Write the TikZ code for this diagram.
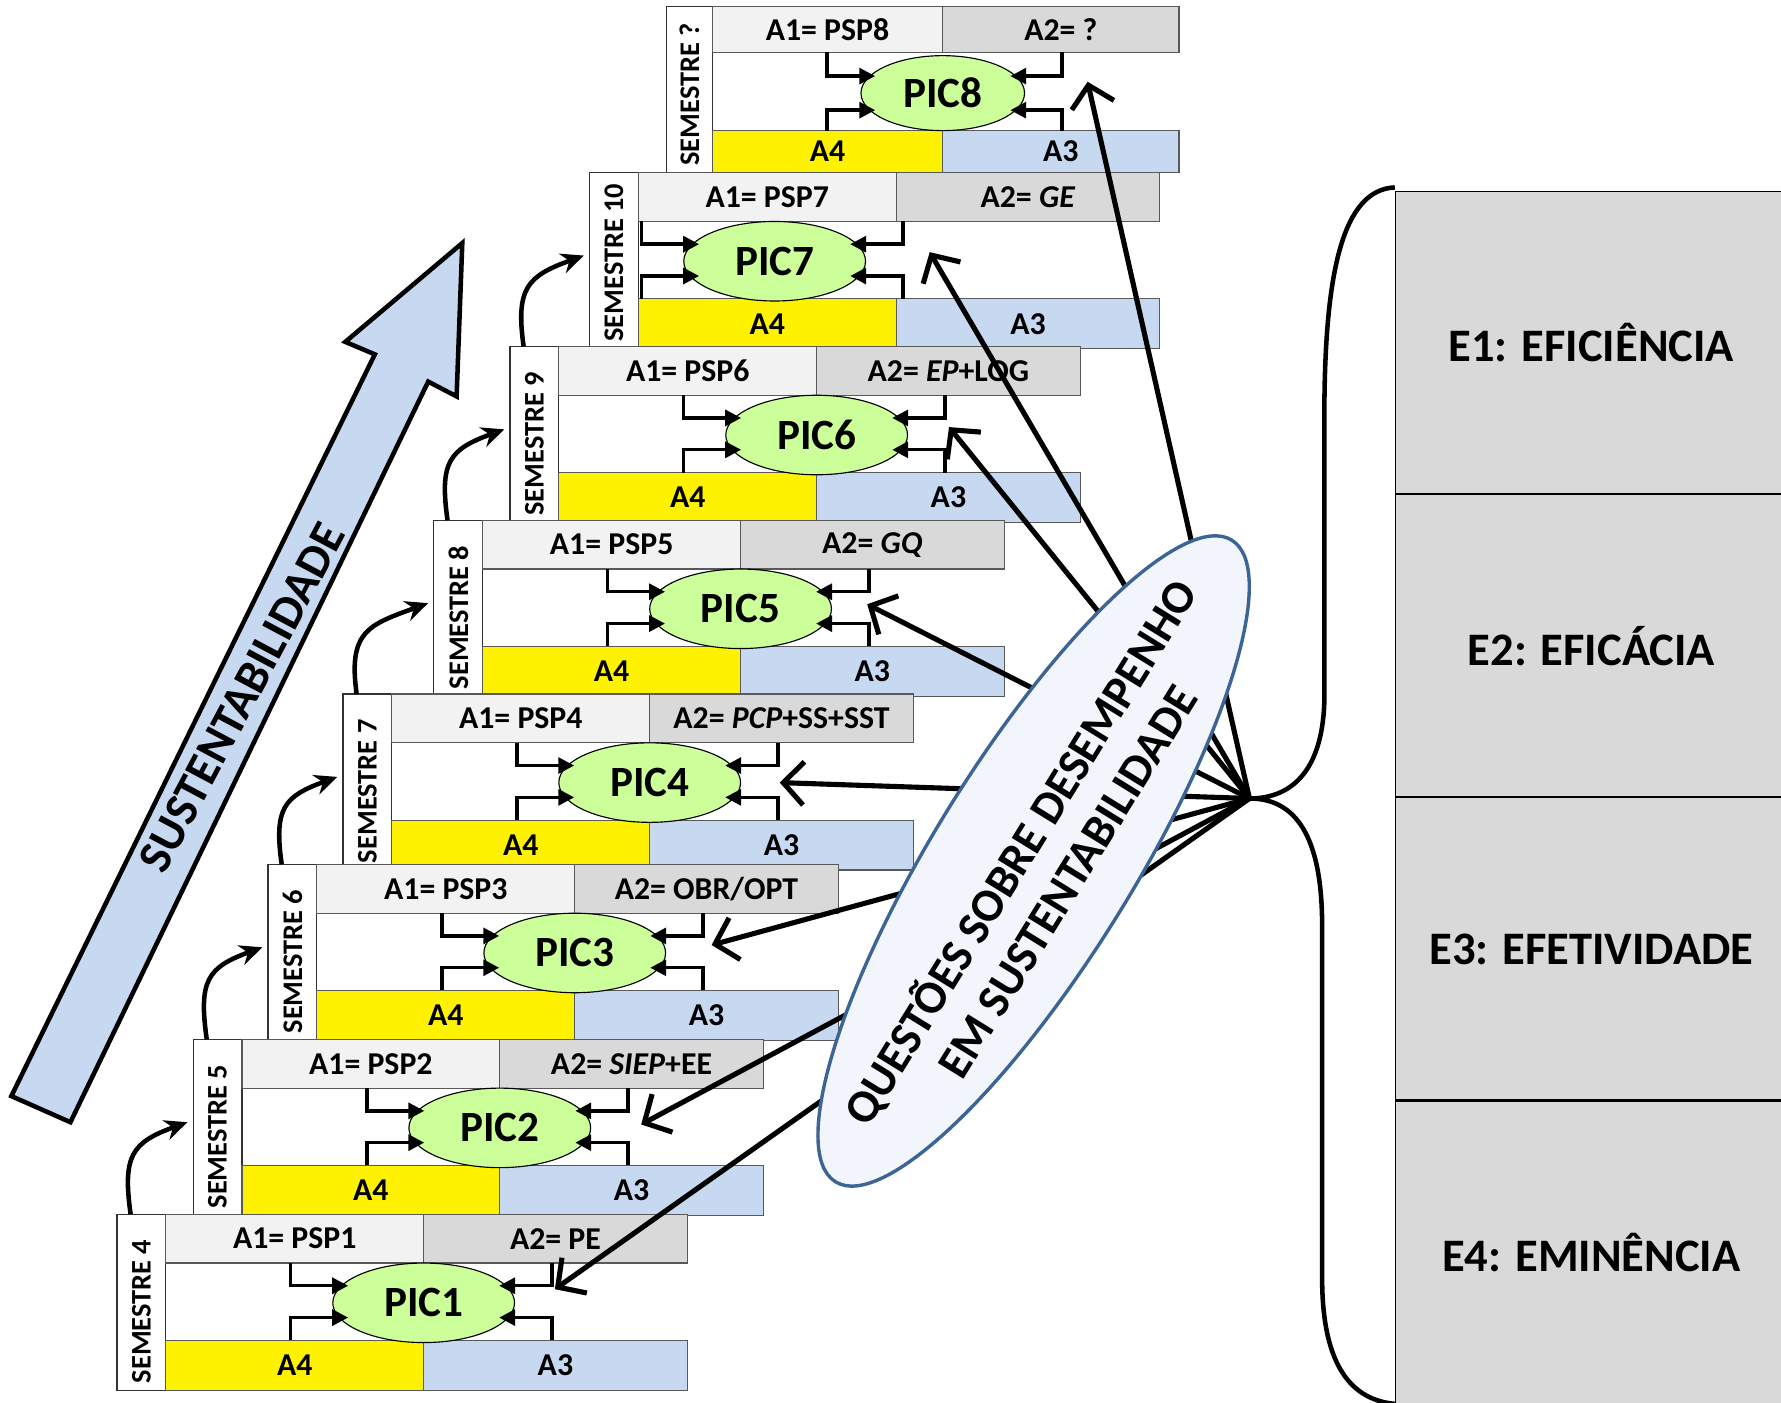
\documentclass[tikz,border=0pt]{standalone}
\usepackage{fontspec}
\setmainfont{Carlito}
\usepackage{xcolor}
\usepackage{tikz}
\usetikzlibrary{positioning}
\usetikzlibrary{arrows.meta}
\usetikzlibrary{shapes}
\usetikzlibrary{calc}

\definecolor{aonegray}{HTML}{F2F2F2}
\definecolor{atwogray}{HTML}{D9D9D9}
\definecolor{athreeblue}{HTML}{C6D9F1}
\definecolor{picgreen}{HTML}{CCFF99}
\definecolor{qfill}{HTML}{F2F6FC}
\definecolor{qborder}{HTML}{3C6494}
\definecolor{curvblue}{HTML}{4F81BD}
\definecolor{boxline}{HTML}{595959}

\begin{document}
\begin{tikzpicture}[x=1pt,y=1pt,
  box/.style={draw=boxline,line width=1pt,inner sep=0pt,outer sep=0pt,font=\fontsize{28}{30}\selectfont\bfseries},
  sembox/.style={draw=black!80,line width=1pt,fill=white,inner sep=0pt,outer sep=0pt,minimum width=43pt,minimum height=155pt},
  semtxt/.style={rotate=90,anchor=west,inner sep=0pt,font=\fontsize{25}{27}\selectfont\bfseries},
  pic/.style={ellipse,draw=black,line width=1pt,fill=picgreen,inner sep=0pt,minimum width=160pt,minimum height=70pt,font=\fontsize{38}{40}\selectfont\bfseries},
  conn/.style={line width=3pt,-{Triangle[length=14pt,width=14pt]}},
  curv/.style={line width=4pt,-{Stealth[length=20pt,width=18pt,fill=curvblue]}},
  qarrow/.style={line width=4.5pt,-{Straight Barb[length=18pt,width=38pt]}},
  epanel/.style={draw=black,line width=1pt,fill=atwogray,minimum width=345pt,minimum height=266pt,anchor=north west,inner sep=0pt,font=\fontsize{41}{44}\selectfont\bfseries}]
  \useasboundingbox (0,0) rectangle (1568,1235);

  \draw[line width=4pt,fill=athreeblue,line join=miter] (10,270) -- (330,923) -- (304,934) -- (407,1021) -- (402,886) -- (377,899) -- (62,247) -- cycle;
  \node[rotate=62,font=\fontsize{42}{44}\selectfont\bfseries] (sust) at (213,621) {SUSTENTABILIDADE};

  \node[sembox,minimum width=40pt,minimum height=146pt,anchor=north west] (S8) at (587,1229) {};
  \node[semtxt] (T8) at ([yshift=6pt]S8.south) {SEMESTRE ?};
  \node[box,fill=aonegray,minimum width=203pt,minimum height=40pt,anchor=north west] (A18) at (S8.north east) {A1= PSP8};
  \node[box,fill=atwogray,minimum width=208pt,minimum height=40pt,anchor=north west] (A28) at (A18.north east) {A2= ?};
  \node[box,fill=yellow,minimum width=203pt,minimum height=37pt,anchor=south west] (A48) at (S8.south east) {A4};
  \node[box,fill=athreeblue,minimum width=208pt,minimum height=37pt,anchor=south west] (A38) at (A48.south east) {A3};
  \node[pic,minimum width=144pt,minimum height=66pt] (PIC8) at (830,1153) {PIC8};
  \draw[conn] (A18.south west) ++(101,0) |- ([xshift=13pt,yshift=15pt]PIC8.west);
  \draw[conn] (A48.north west) ++(101,0) |- ([xshift=13pt,yshift=-15pt]PIC8.west);
  \draw[conn] (A28.south west) ++(105,0) |- ([xshift=-13pt,yshift=15pt]PIC8.east);
  \draw[conn] (A38.north west) ++(105,0) |- ([xshift=-13pt,yshift=-15pt]PIC8.east);

  \foreach \i/\bx/\by/\pc/\atwo in {7/519/1083/163/{\textit{GE}}, 6/449/930/270/{\textit{EP}+LOG}, 5/382/777/270/{\textit{GQ}}, 4/302/624/270/{\textit{PCP}+SS+SST}, 3/236/474/270/{OBR/OPT}, 2/170/320/270/{\textit{SIEP}+EE}, 1/103/166/270/{PE}} {
    \pgfmathtruncatemacro\semn{\i+3}
    \node[sembox,anchor=north west] (S\i) at (\bx,\by) {};
    \node[semtxt] (T\i) at ([yshift=6pt]S\i.south) {SEMESTRE \semn};
    \node[box,fill=aonegray,minimum width=227pt,minimum height=43pt,anchor=north west] (A1\i) at (S\i.north east) {A1= PSP\i};
    \node[box,fill=atwogray,minimum width=232pt,minimum height=43pt,anchor=north west] (A2\i) at (A1\i.north east) {A2= \atwo};
    \node[box,fill=yellow,minimum width=227pt,minimum height=44pt,anchor=south west] (A4\i) at (S\i.south east) {A4};
    \node[box,fill=athreeblue,minimum width=232pt,minimum height=44pt,anchor=south west] (A3\i) at (A4\i.south east) {A3};
    \node[pic] (PIC\i) at (\bx+\pc,\by-78) {PIC\i};
    \draw[conn] (A1\i.south west) ++(\pc-160,0) |- ([xshift=14pt,yshift=15pt]PIC\i.west);
    \draw[conn] (A4\i.north west) ++(\pc-160,0) |- ([xshift=14pt,yshift=-13pt]PIC\i.west);
    \draw[conn] (A2\i.south west) ++(\pc-157,0) |- ([xshift=-14pt,yshift=15pt]PIC\i.east);
    \draw[conn] (A3\i.north west) ++(\pc-157,0) |- ([xshift=-14pt,yshift=-13pt]PIC\i.east);
  }

  \foreach \i [evaluate=\i as \j using int(\i+1)] in {1,...,6}
    \draw[curv] ([xshift=12pt]S\i.north west) to[out=98,in=200,looseness=1.4] ([xshift=-5pt,yshift=-73pt]S\j.north west);

  \node[epanel] (E1) at (1228,1067) {E1: EFICIÊNCIA};
  \node[epanel] (E2) at (E1.south west) {E2: EFICÁCIA};
  \node[epanel] (E3) at (E2.south west) {E3: EFETIVIDADE};
  \node[epanel] (E4) at (E3.south west) {E4: EMINÊNCIA};

  \coordinate (tip) at (1100,532);
  \draw[line width=4pt] (E1.north west) ++(0,3) .. controls (1182,1068) and (1167,995) .. (1166,880) -- (1166,620) .. controls (1165,560) and (1140,532) .. (tip) .. controls (1140,532) and (1164,500) .. (1164,420) -- (1164,110) .. controls (1164,40) and (1185,3) .. (E4.south west);

  \foreach \i/\dx/\dy in {1/35/12, 2/44/3, 3/40/7, 4/34/0, 5/31/4, 6/36/7, 7/56/8, 8/55/10}
    \draw[qarrow] (tip) -- ([xshift=\dx pt,yshift=\dy pt]PIC\i.east);

  \node[ellipse,draw=qborder,line width=3pt,fill=qfill,rotate=58.3,minimum width=664pt,minimum height=176pt,inner sep=0pt] (Q) at (910,477) {};
  \node[rotate=58.3,align=center,inner sep=0pt,font=\fontsize{41}{49}\selectfont\bfseries] (Qtxt) at (917,473) {QUESTÕES SOBRE DESEMPENHO\\EM SUSTENTABILIDADE};
\end{tikzpicture}
\end{document}
